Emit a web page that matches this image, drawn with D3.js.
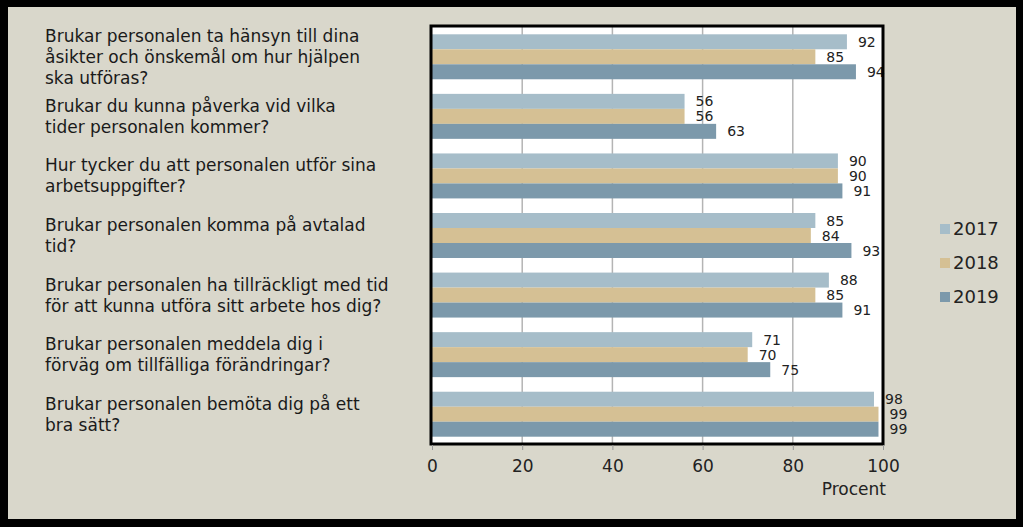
<!DOCTYPE html>
<html>
<head>
<meta charset="utf-8">
<script src="https://cdn.jsdelivr.net/npm/d3@7"></script>
<style>
  body { margin: 0; background: #000; }
  svg { display: block; font-family: "DejaVu Sans", sans-serif; }
</style>
</head>
<body>
<svg width="1023" height="527"></svg>
<script>
var questions = [
  "Brukar personalen ta hänsyn till dina\nåsikter och önskemål om hur hjälpen\nska utföras?",
  "Brukar du kunna påverka vid vilka\ntider personalen kommer?",
  "Hur tycker du att personalen utför sina\narbetsuppgifter?",
  "Brukar personalen komma på avtalad\ntid?",
  "Brukar personalen ha tillräckligt med tid\nför att kunna utföra sitt arbete hos dig?",
  "Brukar personalen meddela dig i\nförväg om tillfälliga förändringar?",
  "Brukar personalen bemöta dig på ett\nbra sätt?"
];
var years = ["2017", "2018", "2019"];
var values2017 = [92, 56, 90, 85, 88, 71, 98];
var values2018 = [85, 56, 90, 84, 85, 70, 99];
var values2019 = [94, 63, 91, 93, 91, 75, 99];
var xTicks = [0, 20, 40, 60, 80, 100];
var colors = ["#a6bdc9", "#d5c094", "#7c99ab"];

var series = [values2017, values2018, values2019];

var svg = d3.select("svg"),
    width = +svg.attr("width"),
    height = +svg.attr("height");

// frame
svg.append("rect").attr("width", width).attr("height", height).attr("fill", "#000");
svg.append("rect").attr("x", 8).attr("y", 7).attr("width", 1008).attr("height", 512).attr("fill", "#d9d7cb");

var plot = { left: 432, right: 883, top: 27, bottom: 444 };

var x = d3.scaleLinear().domain([0, 100]).range([plot.left, plot.right]);
var y = d3.scaleBand().domain(d3.range(questions.length))
    .range([plot.top, plot.bottom]).paddingInner(0.245).paddingOuter(0.1225);
var yy = d3.scaleBand().domain(years).range([0, y.bandwidth()]);
var color = d3.scaleOrdinal().domain(years).range(colors);

svg.append("rect")
    .attr("x", plot.left).attr("y", plot.top)
    .attr("width", plot.right - plot.left).attr("height", plot.bottom - plot.top)
    .attr("fill", "#fff");

// grid
svg.append("g").selectAll("line")
    .data(xTicks.slice(1, -1)).enter().append("line")
    .attr("x1", x).attr("x2", x)
    .attr("y1", plot.top).attr("y2", plot.bottom)
    .attr("stroke", "#b4b4b4").attr("stroke-width", 1.5);

// bars
var groups = svg.append("g").selectAll("g")
    .data(questions).enter().append("g")
    .attr("transform", function (d, i) { return "translate(0," + y(i) + ")"; });

function rows(d, i) {
  return years.map(function (yr, j) { return { year: yr, v: series[j][i] }; });
}

groups.selectAll("rect")
    .data(rows)
    .enter().append("rect")
    .attr("x", x(0))
    .attr("y", function (d) { return yy(d.year); })
    .attr("width", function (d) { return x(d.v) - x(0); })
    .attr("height", yy.bandwidth())
    .attr("fill", function (d) { return color(d.year); });

groups.selectAll("text")
    .data(rows)
    .enter().append("text")
    .attr("x", function (d) { return x(d.v) + 11; })
    .attr("y", function (d) { return yy(d.year) + yy.bandwidth() / 2; })
    .attr("dy", "0.36em")
    .attr("font-size", 14)
    .attr("fill", "#222")
    .text(function (d) { return d.v; });

// plot border drawn over labels
svg.append("rect")
    .attr("x", plot.left - 1).attr("y", plot.top - 1)
    .attr("width", plot.right - plot.left + 1).attr("height", plot.bottom - plot.top + 1)
    .attr("fill", "none").attr("stroke", "#000").attr("stroke-width", 3);

// x axis
var xAxis = svg.append("g")
    .attr("transform", "translate(0," + (plot.bottom + 1) + ")")
    .call(d3.axisBottom(x).tickValues(xTicks).tickSize(5).tickPadding(10));
xAxis.select(".domain").remove();
xAxis.selectAll(".tick line").attr("stroke", "#999");
xAxis.selectAll(".tick text")
    .attr("font-size", 17).attr("fill", "#222")
    .attr("font-family", "DejaVu Sans, sans-serif");

svg.append("text")
    .attr("x", plot.right + 3).attr("y", 495)
    .attr("text-anchor", "end")
    .attr("font-size", 17).attr("fill", "#222")
    .text("Procent");

// question labels
svg.append("g").selectAll("text")
    .data(questions).enter().append("text")
    .attr("font-size", 17).attr("fill", "#1a1a1a")
    .each(function (d, i) {
      var lines = d.split("\n"),
          cy = y(i) + y.bandwidth() / 2,
          lh = 21;
      d3.select(this).selectAll("tspan")
        .data(lines).enter().append("tspan")
        .attr("x", 45)
        .attr("y", function (l, k) { return cy - (lines.length - 1) * lh / 2 + k * lh + 6; })
        .text(function (l) { return l; });
    });

// legend
var legend = svg.append("g").selectAll("g")
    .data(years).enter().append("g")
    .attr("transform", function (d, i) { return "translate(940," + (229 + i * 34) + ")"; });
legend.append("rect")
    .attr("x", 0).attr("y", -5).attr("width", 10).attr("height", 10)
    .attr("fill", color);
legend.append("text")
    .attr("x", 13).attr("dy", "0.36em")
    .attr("font-size", 18).attr("fill", "#222")
    .text(function (d) { return d; });
</script>
</body>
</html>
